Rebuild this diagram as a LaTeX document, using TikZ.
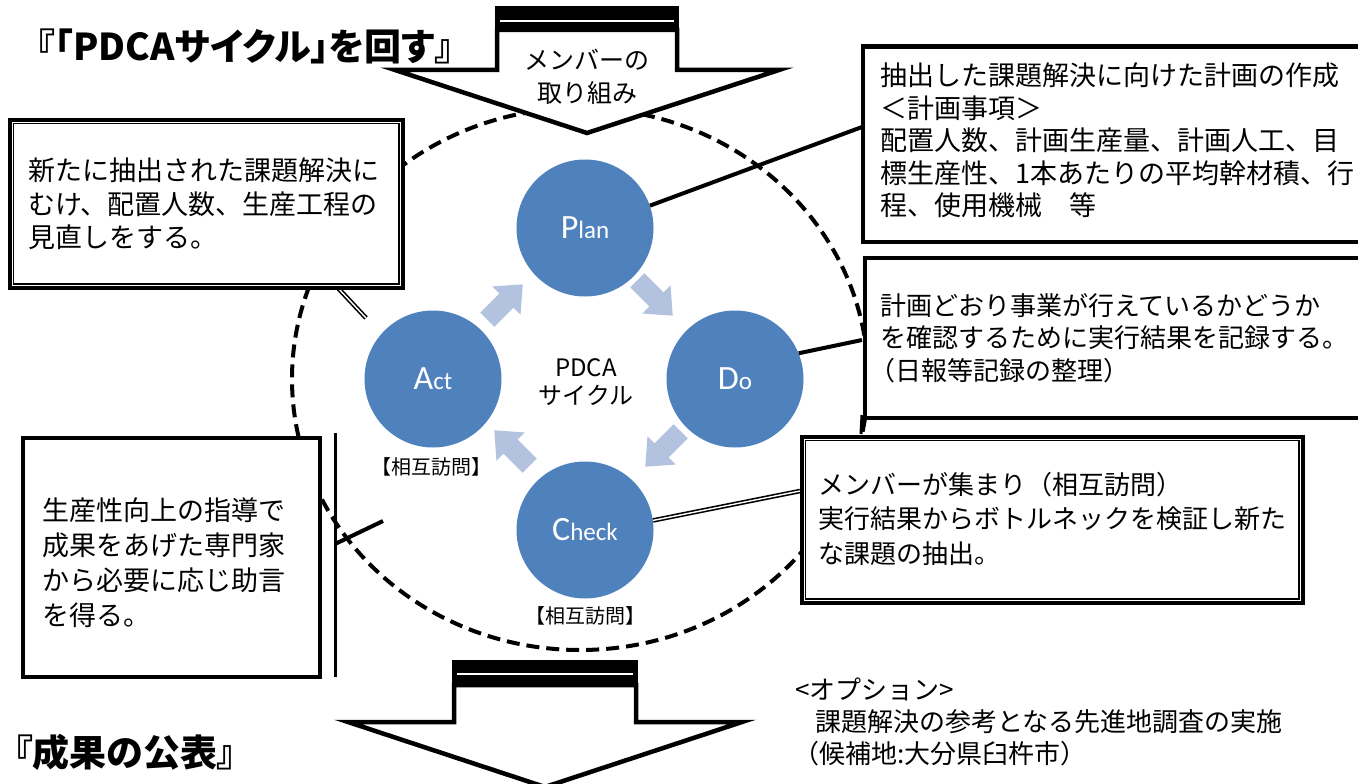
\documentclass[tikz,border=0pt]{standalone}
\usepackage{fontspec}
\setmainfont{Noto Sans CJK JP}
\newfontfamily\ttlfont[RawFeature=+palt]{Noto Sans CJK JP}
\newfontfamily\circfont{Carlito}
\definecolor{cblue}{RGB}{79,129,189}
\definecolor{lblue}{RGB}{179,194,222}
\tikzset{
  box/.style={draw=black, line width=4.5pt, fill=white, rectangle, inner sep=0pt, anchor=north west},
  inbox/.style={draw=black, line width=1.2pt},
  txt/.style={anchor=north west, inner sep=0pt, align=left},
  circ/.style={circle, fill=cblue, minimum size=137pt, inner sep=0pt, text=white},
  conn/.style={line width=4pt},
  dconn/.style={line width=1.6pt, double=white, double distance=1.4pt},
  dashring/.style={line width=4pt, dash pattern=on 13pt off 7pt},
  bigarrow/.style={draw=black, line width=4.5pt, fill=white, line join=miter},
  flowarrow/.pic={\fill[lblue] (-25,-10) -- (2,-10) -- (2,-20) -- (25,0) -- (2,20) -- (2,10) -- (-25,10) -- cycle;},
  f27/.style={font=\fontsize{27}{33.5}\selectfont},
}
\begin{document}
\begin{tikzpicture}[x=1pt,y=-1pt]
\useasboundingbox (0,0) rectangle (1358,784);
\clip (0,0) rectangle (1358,784);
\fill[white] (0,0) rectangle (1358,784);

% dashed ring
\draw[dashring] (580,379) ellipse [x radius=288, y radius=271];

% top arrow
\draw[bigarrow] (497,30) -- (497,70) -- (395,70) -- (587,133) -- (779,70) -- (677,70) -- (677,30) -- cycle;
\fill[black] (495,6) rectangle (679,31);
\draw[white, line width=2pt] (500,21.5) -- (674,21.5);
\node[font=\fontsize{25}{33}\selectfont, align=center, inner sep=0pt] (toptxt) at (587,77) {メンバーの\\取り組み};

% bottom arrow
\draw[bigarrow] (454,685) -- (454,722) -- (348,722) -- (545,787) -- (742,722) -- (636,722) -- (636,685) -- cycle;
\fill[black] (452,660) rectangle (638,686);
\draw[white, line width=2pt] (457,674) -- (633,674);

% circles
\node[circ] (plan) at (585,228) {\circfont{\fontsize{34}{34}\selectfont P}{\circfont\fontsize{25}{25}\selectfont lan}};
\node[circ] (do) at (735,379) {\circfont{\fontsize{34}{34}\selectfont D}{\circfont\fontsize{25}{25}\selectfont o}};
\node[circ] (check) at (585,530) {\circfont{\fontsize{34}{34}\selectfont C}{\circfont\fontsize{25}{25}\selectfont heck}};
\node[circ] (act) at (433,379) {\circfont{\fontsize{34}{34}\selectfont A}{\circfont\fontsize{25}{25}\selectfont ct}};

\node[font=\fontsize{24}{28}\selectfont, align=center, inner sep=0pt] (center) at (586,382) {PDCA\\サイクル};

% flow arrows
\pic[rotate=-45] at (655,298) {flowarrow};
\pic[rotate=-135] at (663,449) {flowarrow};
\pic[rotate=135] at (512,448) {flowarrow};
\pic[rotate=45] at (505,302) {flowarrow};

\node[font=\fontsize{20}{20}\selectfont, inner sep=0pt] (actlab) at (431,467) {【相互訪問】};
\node[font=\fontsize{20}{20}\selectfont, inner sep=0pt] (checklab) at (585,616) {【相互訪問】};

% connectors
\coordinate (pend) at (862,127);
\draw[conn] (plan.19) -- (pend);
\coordinate (dend) at (862,340);
\draw[conn] (do.22) -- (dend);
\coordinate (cend) at (800,491);
\draw[dconn] (check.8) -- (cend);
\coordinate (tlend) at (338,288);
\coordinate (actend) at (366,318);
\draw[dconn] (tlend) -- (actend);
\coordinate (vtop) at (335,433);
\coordinate (vbot) at (335,677);
\draw[line width=3pt] (vtop) -- (vbot);
\coordinate (bla) at (335,544);
\coordinate (blb) at (383,521);
\draw[conn] (bla) -- (blb);
\coordinate (mra) at (862,415);
\coordinate (mrb) at (861,434);
\draw[line width=3pt] (mra) -- (mrb);

% boxes
\node[box, minimum width=393pt, minimum height=168pt] (tlbox) at (7.5,117.5) {};
\draw[inbox] ([shift={(6,6)}]tlbox.north west) rectangle ([shift={(-6,-6)}]tlbox.south east);
\node[txt, f27] (tltxt) at (28,158) {新たに抽出された課題解決に\\むけ、配置人数、生産工程の\\見直しをする。};

\node[box, minimum width=520pt, minimum height=195pt] (trbox) at (860.5,44.5) {};
\node[txt, font=\fontsize{27}{32.5}\selectfont] (trtxt) at (880,63) {抽出した課題解決に向けた計画の作成\\＜計画事項＞\\配置人数、計画生産量、計画人工、目\\標生産性、1本あたりの平均幹材積、行\\程、使用機械　等};

\node[box, minimum width=520pt, minimum height=160pt] (mrbox) at (862.5,255.5) {};
\node[txt, font=\fontsize{26}{32.5}\selectfont] (mrtxt) at (880,293) {計画どおり事業が行えているかどうか\\を確認するために実行結果を記録する。\\\kern-11pt（日報等記録の整理）};

\node[box, minimum width=501pt, minimum height=166pt] (brbox) at (799.5,434.5) {};
\draw[inbox] ([shift={(6,6)}]brbox.north west) rectangle ([shift={(-6,-6)}]brbox.south east);
\node[txt, font=\fontsize{26}{34.5}\selectfont] (brtxt) at (818,472) {メンバーが集まり（相互訪問）\\実行結果からボトルネックを検証し新た\\な課題の抽出。};

\node[box, minimum width=297pt, minimum height=239pt] (blbox) at (20.5,435.5) {};
\node[txt, font=\fontsize{27}{35}\selectfont] (bltxt) at (42,498) {生産性向上の指導で\\成果をあげた専門家\\から必要に応じ助言\\を得る。};

% option text
\node[txt, font=\fontsize{26}{32}\selectfont] (opttxt) at (795,678) {<オプション>\\\hspace*{20pt}課題解決の参考となる先進地調査の実施\\\hspace*{-2pt}（候補地:大分県臼杵市）};

% titles
\node[anchor=west, inner sep=0pt, font=\ttlfont\fontsize{37}{37}\selectfont\bfseries] (title) at (36,46) {『「PDCAサイクル」を回す』};
\node[anchor=west, inner sep=0pt, font=\ttlfont\fontsize{37}{37}\selectfont\bfseries] (title2) at (14,752) {『成果の公表』};
\end{tikzpicture}
\end{document}
